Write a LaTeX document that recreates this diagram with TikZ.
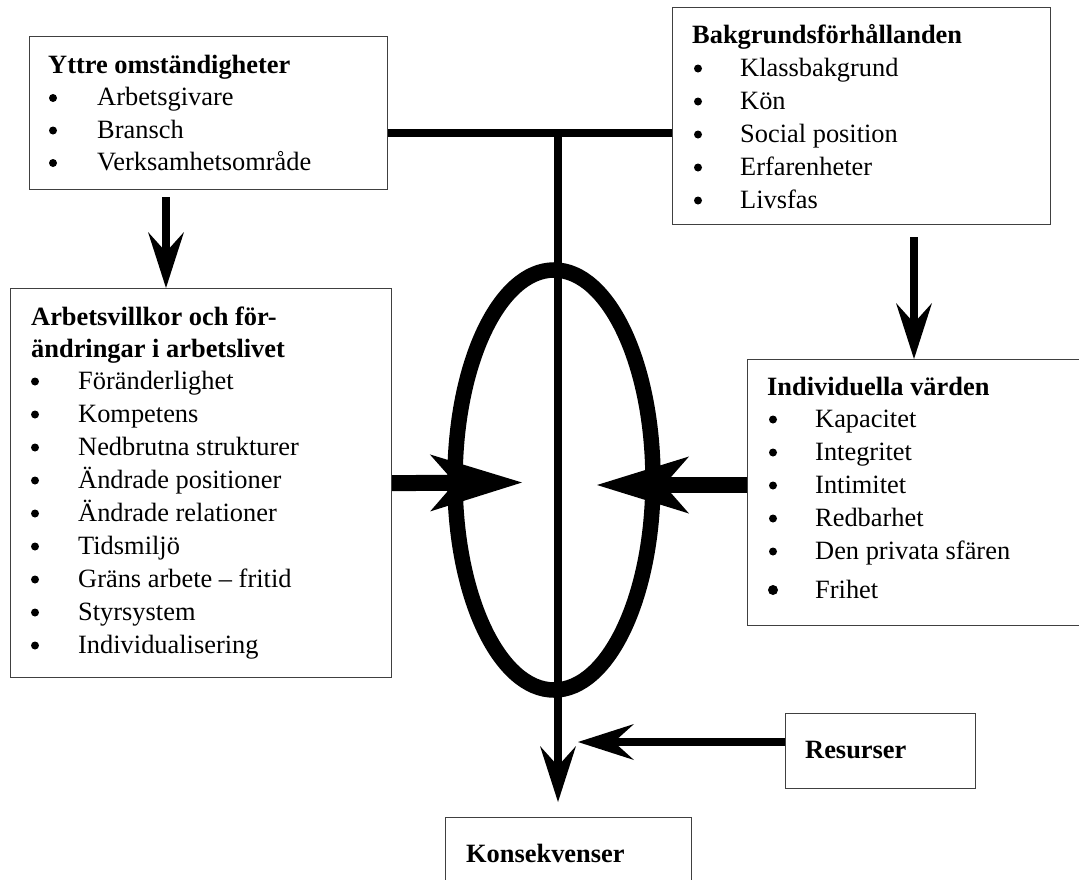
\documentclass[tikz,border=0pt]{standalone}
\usepackage{fontspec}
\setmainfont{Liberation Serif}
\usetikzlibrary{arrows.meta,calc}
\begin{document}
\begin{tikzpicture}[x=1pt,y=-1pt,
  box/.style={draw=black!75, line width=1.2pt, inner sep=0pt, anchor=north west, fill=white},
  txt/.style={anchor=base west, inner sep=0pt, font=\fontsize{26.4}{33}\selectfont},
  ttl/.style={anchor=base west, inner sep=0pt, font=\fontsize{26.4}{33}\selectfont\bfseries},
  bigarr/.style={line width=16pt, -{Stealth[length=92pt, width=57pt, inset=25pt, line width=0pt]}},
  medarr/.style={line width=8pt, -{Stealth[length=56pt, width=36pt, inset=20pt, line width=0pt]}},
  bar/.style={line width=8pt}]
\useasboundingbox (0,0) rectangle (1079,879);
\clip (0,0) rectangle (1079,879);

% boxes
\node[box, minimum width=358pt, minimum height=153pt] (yttre) at (29,36) {};
\node[box, minimum width=378pt, minimum height=217pt] (bak) at (672,7) {};
\node[box, minimum width=381pt, minimum height=389pt] (arb) at (10,288) {};
\node[box, minimum width=343pt, minimum height=266pt] (ind) at (747,359) {};
\node[box, minimum width=190pt, minimum height=75pt] (res) at (785,713) {};
\node[box, minimum width=246pt, minimum height=100pt] (kons) at (445,817) {};

% Yttre omstandigheter
\node[ttl] (yttreT) at (48,73) {Yttre omständigheter};
\foreach \t [count=\i] in {Arbetsgivare,Bransch,Verksamhetsområde}{
  \fill (53,73+32.5*\i-7.5) circle (4pt);
  \node[txt] (yttre\i) at (97,73+32.5*\i) {\t};
}

% Bakgrundsforhallanden
\node[ttl] (bakT) at (692,43) {Bakgrundsförhållanden};
\foreach \t [count=\i] in {Klassbakgrund,Kön,Social position,Erfarenheter,Livsfas}{
  \fill (698,43+33*\i-7.5) circle (4pt);
  \node[txt] (bak\i) at (740,43+33*\i) {\t};
}

% Arbetsvillkor
\node[ttl] (arbT1) at (31,325) {Arbetsvillkor och för-};
\node[ttl] (arbT2) at (31,357) {ändringar i arbetslivet};
\foreach \t [count=\i] in {Föränderlighet,Kompetens,Nedbrutna strukturer,Ändrade positioner,Ändrade relationer,Tidsmiljö,Gräns arbete – fritid,Styrsystem,Individualisering}{
  \fill (35,356+33*\i-7.5) circle (4pt);
  \node[txt] (arb\i) at (78,356+33*\i) {\t};
}

% Individuella varden
\node[ttl] (indT) at (767,395) {Individuella värden};
\foreach \t [count=\i] in {Kapacitet,Integritet,Intimitet,Redbarhet,Den privata sfären}{
  \fill (773,394+33*\i-7.5) circle (4pt);
  \node[txt] (ind\i) at (815,394+33*\i) {\t};
}
\fill (773,590) circle (5pt);
\node[txt] (ind6) at (815,598) {Frihet};

% Resurser, Konsekvenser
\node[ttl] (resT) at (805,758) {Resurser};
\node[ttl] (konsT) at (466,862) {Konsekvenser};

% ellipse
\draw[line width=15.5pt] (554,480) ellipse [x radius=99pt, y radius=210pt];

% connectors
\coordinate (j) at (558,133);
\draw[bar] (yttre.east |- j) -- (bak.west |- j);
\draw[medarr] (j) -- ($(kons.north -| j)+(0,-15)$);

\coordinate (ltip) at (522,482.5);
\draw[bigarr] (arb.east) -- (ltip);
\coordinate (rtip) at (597,485);
\draw[bigarr] (rtip -| ind.west) -- (rtip);

\coordinate (ya) at (166,197);
\draw[medarr] (ya) -- (ya |- arb.north);
\coordinate (ba) at (914,237);
\draw[medarr] (ba) -- (ba |- ind.north);
\coordinate (rt) at (578,742);
\draw[medarr] (rt -| res.west) -- (rt);
\end{tikzpicture}
\end{document}
